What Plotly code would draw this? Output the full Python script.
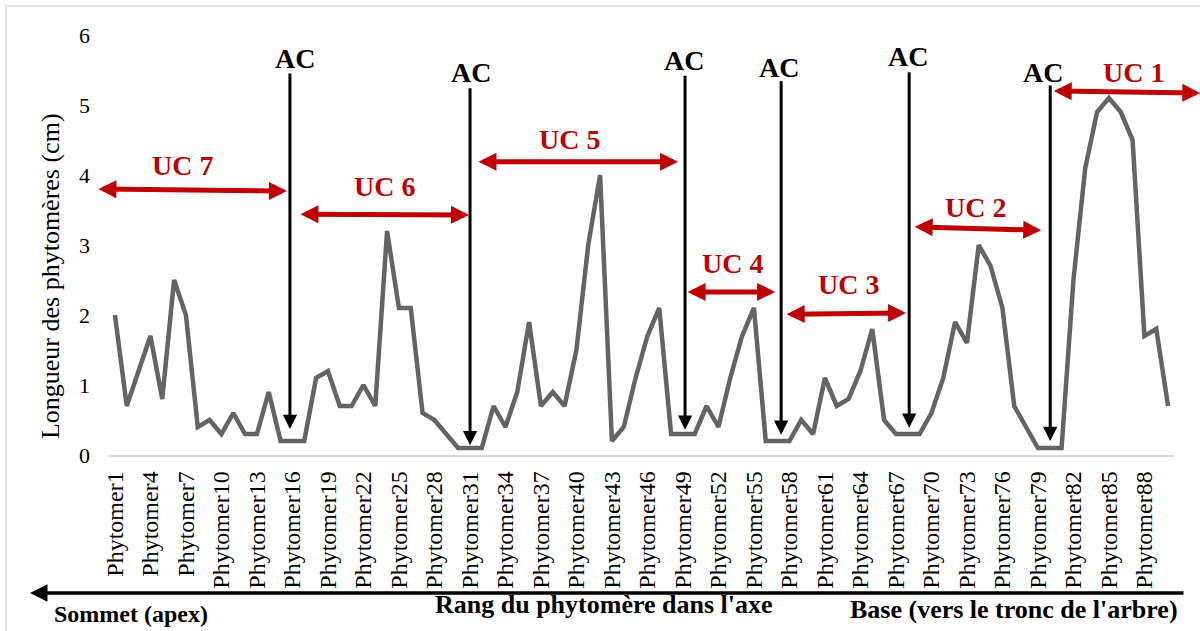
import plotly.graph_objects as go

# ---------------- data ----------------
phytomers = ["Phytomer%d" % i for i in range(1, 91)]
longueur = [
    2.0, 0.7, 1.2, 1.7, 0.8, 2.5, 2.0, 0.4, 0.5, 0.3,
    0.6, 0.3, 0.3, 0.9, 0.2, 0.2, 0.2, 1.1, 1.2, 0.7,
    0.7, 1.0, 0.7, 3.2, 2.1, 2.1, 0.6, 0.5, 0.3, 0.1,
    0.1, 0.1, 0.7, 0.4, 0.9, 1.9, 0.7, 0.9, 0.7, 1.5,
    3.0, 4.0, 0.2, 0.4, 1.1, 1.7, 2.1, 0.3, 0.3, 0.3,
    0.7, 0.4, 1.1, 1.7, 2.1, 0.2, 0.2, 0.2, 0.5, 0.3,
    1.1, 0.7, 0.8, 1.2, 1.8, 0.5, 0.3, 0.3, 0.3, 0.6,
    1.1, 1.9, 1.6, 3.0, 2.7, 2.1, 0.7, 0.4, 0.1, 0.1,
    0.1, 2.5, 4.1, 4.9, 5.1, 4.9, 4.5, 1.7, 1.8, 0.7,
]
tick_labels = phytomers[::3]

# AC (arrêt de croissance) arrows: x (category index), tip y, top y
ac_x = [14.79, 30.01, 48.18, 56.30, 67.12, 79.04]
ac_tip = [0.37, 0.14, 0.36, 0.29, 0.39, 0.20]
ac_top = [5.47, 5.26, 5.44, 5.36, 5.49, 5.30]
ac_lab_x = [15.22, 30.09, 48.10, 56.13, 67.03, 78.44]
ac_lab_y = [5.67, 5.46, 5.64, 5.54, 5.70, 5.46]

# UC (unités de croissance) double arrows
uc_names = ["UC 7", "UC 6", "UC 5", "UC 4", "UC 3", "UC 2", "UC 1"]
uc_x0 = [-1.52, 15.55, 30.60, 48.27, 56.64, 67.46, 79.21]
uc_y0 = [3.80, 3.44, 4.19, 2.33, 2.01, 3.26, 5.20]
uc_x1 = [14.54, 29.92, 47.59, 55.79, 66.86, 78.28, 91.72]
uc_y1 = [3.77, 3.43, 4.19, 2.33, 2.03, 3.21, 5.17]
uc_lab_x = [5.75, 22.74, 38.38, 52.16, 61.96, 72.70, 86.05]
uc_lab_y = [4.13, 3.84, 4.51, 2.74, 2.43, 3.54, 5.47]

FONT = "Liberation Serif, Times New Roman, serif"
RED = "#C00000"

fig = go.Figure()
fig.add_trace(go.Scatter(
    x=phytomers, y=longueur, mode="lines",
    line=dict(color="#646464", width=4.5),
    cliponaxis=False, hoverinfo="x+y", showlegend=False,
))

ann = []
for x, t, top in zip(ac_x, ac_tip, ac_top):
    ann.append(dict(x=x, y=t, ax=x, ay=top, xref="x", yref="y", axref="x", ayref="y",
                    text="", showarrow=True, arrowhead=2, arrowsize=0.95,
                    arrowwidth=3, arrowcolor="black", standoff=0))
for x, y in zip(ac_lab_x, ac_lab_y):
    ann.append(dict(x=x, y=y, xref="x", yref="y", text="<b>AC</b>", showarrow=False,
                    xanchor="center", yanchor="middle",
                    font=dict(family=FONT, size=28, color="black")))
for name, x0, y0, x1, y1, lx, ly in zip(uc_names, uc_x0, uc_y0, uc_x1, uc_y1, uc_lab_x, uc_lab_y):
    ann.append(dict(x=x1, y=y1, ax=x0, ay=y0, xref="x", yref="y", axref="x", ayref="y",
                    text="", showarrow=True, arrowside="end+start",
                    arrowhead=2, startarrowhead=2, arrowsize=0.72, startarrowsize=0.72,
                    arrowwidth=5, arrowcolor=RED, standoff=0, startstandoff=0))
    ann.append(dict(x=lx, y=ly, xref="x", yref="y", text="<b>%s</b>" % name, showarrow=False,
                    xanchor="center", yanchor="middle",
                    font=dict(family=FONT, size=28, color=RED)))

# bottom direction arrow (base -> sommet)
ann.append(dict(x=-0.0742, y=-0.3286, xref="paper", yref="paper", ax=1155, ay=0,
                text="", showarrow=True, arrowhead=2, arrowsize=1.0, arrowwidth=3.5,
                arrowcolor="black", standoff=0))
ann.append(dict(x=-0.0535, y=-0.3786, xref="paper", yref="paper",
                xanchor="left", yanchor="middle",
                text="<b>Sommet (apex)</b>", showarrow=False,
                font=dict(family=FONT, size=24, color="black")))
ann.append(dict(x=0.4648, y=-0.357, xref="paper", yref="paper",
                xanchor="center", yanchor="middle",
                text="<b>Rang du phytomère dans l'axe</b>", showarrow=False,
                font=dict(family=FONT, size=26, color="black")))
ann.append(dict(x=1.0056, y=-0.3667, xref="paper", yref="paper",
                xanchor="right", yanchor="middle",
                text="<b>Base (vers le tronc de l'arbre)</b>", showarrow=False,
                font=dict(family=FONT, size=26, color="black")))
# y-axis title
ann.append(dict(x=-0.0554, y=0.426, xref="paper", yref="paper", textangle=-90,
                xanchor="center", yanchor="middle",
                text="Longueur des phytomères (cm)", showarrow=False,
                font=dict(family=FONT, size=26, color="black")))

fig.update_layout(
    width=1200, height=631,
    margin=dict(l=109, r=26, t=35, b=176),
    paper_bgcolor="white", plot_bgcolor="white",
    font=dict(family=FONT, color="black"),
    annotations=ann,
    shapes=[dict(type="rect", xref="paper", yref="paper",
                 x0=-0.0967, y0=-0.44, x1=1.0338, y1=1.069,
                 line=dict(color="#D9D9D9", width=1.5), layer="below")],
    xaxis=dict(type="category", range=[-0.5, 89.5], showgrid=False, zeroline=False,
               showline=True, linecolor="#D9D9D9", linewidth=1.5,
               tickmode="array", tickvals=tick_labels, ticktext=tick_labels,
               tickangle=-90, ticks="", ticklabelstandoff=5,
               tickfont=dict(family=FONT, size=24, color="black")),
    yaxis=dict(range=[0, 6], dtick=1, showgrid=False, zeroline=False, showline=False,
               ticks="", ticklabelstandoff=18,
               tickfont=dict(family=FONT, size=22, color="black")),
)

fig.write_html("out.html", config={"displayModeBar": False},
               post_script="document.body.style.margin='0';document.body.style.overflow='hidden';")
